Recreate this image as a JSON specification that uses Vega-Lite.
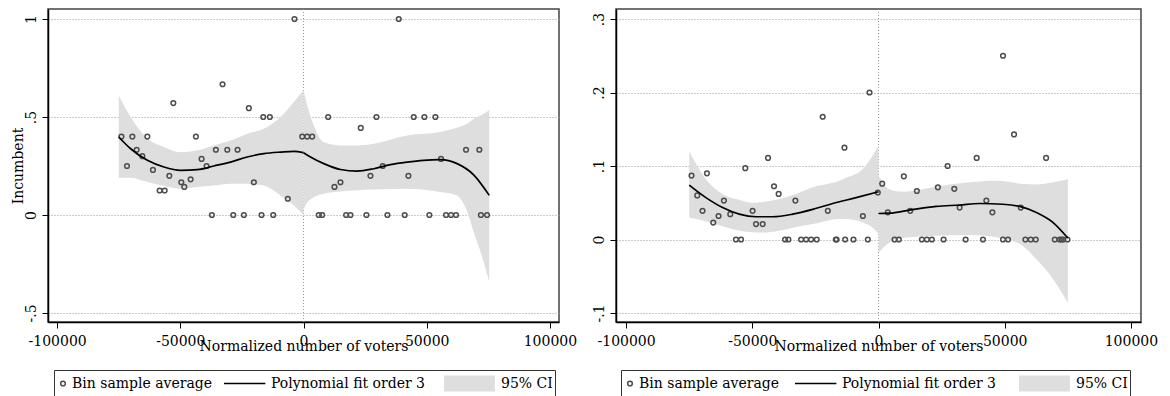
{
  "$schema": "https://vega.github.io/schema/vega-lite/v6.json",
  "padding": {"left": 10, "top": 7, "right": 0, "bottom": 0},
  "spacing": 13,
  "config": {
    "font": "DejaVu Serif",
    "view": {"stroke": "#444", "strokeWidth": 1.5},
    "axis": {"labelFont": "DejaVu Serif", "labelFontSize": 14, "labelColor": "#000", "titleFont": "DejaVu Serif", "titleFontSize": 14, "titleFontWeight": "normal", "titleColor": "#000", "domainColor": "#000", "domainWidth": 1.5, "tickColor": "#000", "tickSize": 6, "tickWidth": 1, "gridColor": "#999", "gridDash": [1, 2], "gridWidth": 1, "labelFlush": false},
    "axisX": {"grid": false},
    "legend": {"orient": "none", "legendX": 6, "legendY": 361, "direction": "horizontal", "strokeColor": "#333", "padding": 2, "columnPadding": 10, "labelOffset": 2, "clipHeight": 23, "symbolStrokeWidth": 1.5, "symbolFillColor": "transparent", "symbolStrokeColor": "transparent", "symbolOpacity": 1, "labelFont": "DejaVu Serif", "labelFontSize": 14, "labelColor": "#000", "fillColor": "#fff"}
  },
  "datasets": {
    "left_pts": [
      {"x": -73900, "y": 0.4, "series": "Bin sample average"},
      {"x": -71650, "y": 0.25, "series": "Bin sample average"},
      {"x": -69460, "y": 0.4, "series": "Bin sample average"},
      {"x": -67720, "y": 0.333, "series": "Bin sample average"},
      {"x": -65410, "y": 0.3, "series": "Bin sample average"},
      {"x": -63380, "y": 0.4, "series": "Bin sample average"},
      {"x": -61100, "y": 0.23, "series": "Bin sample average"},
      {"x": -58390, "y": 0.125, "series": "Bin sample average"},
      {"x": -56360, "y": 0.125, "series": "Bin sample average"},
      {"x": -54460, "y": 0.2, "series": "Bin sample average"},
      {"x": -52840, "y": 0.571, "series": "Bin sample average"},
      {"x": -49600, "y": 0.167, "series": "Bin sample average"},
      {"x": -48380, "y": 0.143, "series": "Bin sample average"},
      {"x": -45820, "y": 0.182, "series": "Bin sample average"},
      {"x": -43670, "y": 0.4, "series": "Bin sample average"},
      {"x": -41360, "y": 0.286, "series": "Bin sample average"},
      {"x": -39330, "y": 0.25, "series": "Bin sample average"},
      {"x": -37180, "y": 0, "series": "Bin sample average"},
      {"x": -35560, "y": 0.333, "series": "Bin sample average"},
      {"x": -32850, "y": 0.667, "series": "Bin sample average"},
      {"x": -30940, "y": 0.333, "series": "Bin sample average"},
      {"x": -28510, "y": 0, "series": "Bin sample average"},
      {"x": -26760, "y": 0.333, "series": "Bin sample average"},
      {"x": -24200, "y": 0, "series": "Bin sample average"},
      {"x": -22180, "y": 0.545, "series": "Bin sample average"},
      {"x": -20150, "y": 0.167, "series": "Bin sample average"},
      {"x": -17030, "y": 0, "series": "Bin sample average"},
      {"x": -16340, "y": 0.5, "series": "Bin sample average"},
      {"x": -13660, "y": 0.5, "series": "Bin sample average"},
      {"x": -12290, "y": 0, "series": "Bin sample average"},
      {"x": -6370, "y": 0.083, "series": "Bin sample average"},
      {"x": -3650, "y": 1.0, "series": "Bin sample average"},
      {"x": -530, "y": 0.4, "series": "Bin sample average"},
      {"x": 1500, "y": 0.4, "series": "Bin sample average"},
      {"x": 3530, "y": 0.4, "series": "Bin sample average"},
      {"x": 6200, "y": 0, "series": "Bin sample average"},
      {"x": 7580, "y": 0, "series": "Bin sample average"},
      {"x": 10010, "y": 0.5, "series": "Bin sample average"},
      {"x": 12570, "y": 0.143, "series": "Bin sample average"},
      {"x": 15000, "y": 0.167, "series": "Bin sample average"},
      {"x": 17300, "y": 0, "series": "Bin sample average"},
      {"x": 19060, "y": 0, "series": "Bin sample average"},
      {"x": 23240, "y": 0.444, "series": "Bin sample average"},
      {"x": 25550, "y": 0, "series": "Bin sample average"},
      {"x": 27170, "y": 0.2, "series": "Bin sample average"},
      {"x": 29600, "y": 0.5, "series": "Bin sample average"},
      {"x": 32160, "y": 0.25, "series": "Bin sample average"},
      {"x": 34060, "y": 0, "series": "Bin sample average"},
      {"x": 38650, "y": 1.0, "series": "Bin sample average"},
      {"x": 41080, "y": 0, "series": "Bin sample average"},
      {"x": 42580, "y": 0.2, "series": "Bin sample average"},
      {"x": 44740, "y": 0.5, "series": "Bin sample average"},
      {"x": 49070, "y": 0.5, "series": "Bin sample average"},
      {"x": 51090, "y": 0, "series": "Bin sample average"},
      {"x": 53530, "y": 0.5, "series": "Bin sample average"},
      {"x": 55830, "y": 0.286, "series": "Bin sample average"},
      {"x": 57850, "y": 0, "series": "Bin sample average"},
      {"x": 59880, "y": 0, "series": "Bin sample average"},
      {"x": 61910, "y": 0, "series": "Bin sample average"},
      {"x": 65970, "y": 0.333, "series": "Bin sample average"},
      {"x": 71370, "y": 0.333, "series": "Bin sample average"},
      {"x": 72000, "y": 0, "series": "Bin sample average"},
      {"x": 74500, "y": 0, "series": "Bin sample average"}
    ],
    "left_fit": [
      {"x": -75000, "y": 0.398, "side": "L", "series": "Polynomial fit order 3"},
      {"x": -70150, "y": 0.338, "side": "L", "series": "Polynomial fit order 3"},
      {"x": -63380, "y": 0.279, "side": "L", "series": "Polynomial fit order 3"},
      {"x": -56650, "y": 0.245, "side": "L", "series": "Polynomial fit order 3"},
      {"x": -49880, "y": 0.228, "side": "L", "series": "Polynomial fit order 3"},
      {"x": -43100, "y": 0.231, "side": "L", "series": "Polynomial fit order 3"},
      {"x": -36370, "y": 0.25, "side": "L", "series": "Polynomial fit order 3"},
      {"x": -29600, "y": 0.27, "side": "L", "series": "Polynomial fit order 3"},
      {"x": -22830, "y": 0.296, "side": "L", "series": "Polynomial fit order 3"},
      {"x": -16100, "y": 0.313, "side": "L", "series": "Polynomial fit order 3"},
      {"x": -9330, "y": 0.321, "side": "L", "series": "Polynomial fit order 3"},
      {"x": -3930, "y": 0.325, "side": "L", "series": "Polynomial fit order 3"},
      {"x": 0, "y": 0.318, "side": "L", "series": "Polynomial fit order 3"},
      {"x": 0, "y": 0.318, "side": "R", "series": "Polynomial fit order 3"},
      {"x": 2840, "y": 0.296, "side": "R", "series": "Polynomial fit order 3"},
      {"x": 8230, "y": 0.262, "side": "R", "series": "Polynomial fit order 3"},
      {"x": 15000, "y": 0.232, "side": "R", "series": "Polynomial fit order 3"},
      {"x": 21780, "y": 0.224, "side": "R", "series": "Polynomial fit order 3"},
      {"x": 28510, "y": 0.236, "side": "R", "series": "Polynomial fit order 3"},
      {"x": 35280, "y": 0.257, "side": "R", "series": "Polynomial fit order 3"},
      {"x": 42050, "y": 0.27, "side": "R", "series": "Polynomial fit order 3"},
      {"x": 48780, "y": 0.279, "side": "R", "series": "Polynomial fit order 3"},
      {"x": 55550, "y": 0.282, "side": "R", "series": "Polynomial fit order 3"},
      {"x": 62330, "y": 0.262, "side": "R", "series": "Polynomial fit order 3"},
      {"x": 69060, "y": 0.205, "side": "R", "series": "Polynomial fit order 3"},
      {"x": 75400, "y": 0.1, "side": "R", "series": "Polynomial fit order 3"}
    ],
    "left_ci": [
      {"x": -75000, "lo": 0.19, "hi": 0.61, "side": "L", "series": "95% CI"},
      {"x": -70150, "lo": 0.19, "hi": 0.5, "side": "L", "series": "95% CI"},
      {"x": -63380, "lo": 0.168, "hi": 0.39, "side": "L", "series": "95% CI"},
      {"x": -56650, "lo": 0.148, "hi": 0.347, "side": "L", "series": "95% CI"},
      {"x": -49880, "lo": 0.134, "hi": 0.32, "side": "L", "series": "95% CI"},
      {"x": -43100, "lo": 0.143, "hi": 0.33, "side": "L", "series": "95% CI"},
      {"x": -36370, "lo": 0.151, "hi": 0.355, "side": "L", "series": "95% CI"},
      {"x": -29600, "lo": 0.16, "hi": 0.38, "side": "L", "series": "95% CI"},
      {"x": -22830, "lo": 0.16, "hi": 0.415, "side": "L", "series": "95% CI"},
      {"x": -16100, "lo": 0.15, "hi": 0.44, "side": "L", "series": "95% CI"},
      {"x": -9330, "lo": 0.1, "hi": 0.5, "side": "L", "series": "95% CI"},
      {"x": -3930, "lo": 0.05, "hi": 0.577, "side": "L", "series": "95% CI"},
      {"x": 0, "lo": 0.0, "hi": 0.636, "side": "L", "series": "95% CI"},
      {"x": 0, "lo": 0.03, "hi": 0.636, "side": "R", "series": "95% CI"},
      {"x": 810, "lo": 0.05, "hi": 0.593, "side": "R", "series": "95% CI"},
      {"x": 4180, "lo": 0.09, "hi": 0.457, "side": "R", "series": "95% CI"},
      {"x": 8230, "lo": 0.109, "hi": 0.372, "side": "R", "series": "95% CI"},
      {"x": 15000, "lo": 0.12, "hi": 0.355, "side": "R", "series": "95% CI"},
      {"x": 21780, "lo": 0.126, "hi": 0.355, "side": "R", "series": "95% CI"},
      {"x": 28510, "lo": 0.13, "hi": 0.364, "side": "R", "series": "95% CI"},
      {"x": 42050, "lo": 0.134, "hi": 0.406, "side": "R", "series": "95% CI"},
      {"x": 55550, "lo": 0.117, "hi": 0.423, "side": "R", "series": "95% CI"},
      {"x": 62330, "lo": 0.1, "hi": 0.445, "side": "R", "series": "95% CI"},
      {"x": 63660, "lo": 0.083, "hi": 0.45, "side": "R", "series": "95% CI"},
      {"x": 66380, "lo": 0.02, "hi": 0.465, "side": "R", "series": "95% CI"},
      {"x": 69060, "lo": -0.087, "hi": 0.49, "side": "R", "series": "95% CI"},
      {"x": 72180, "lo": -0.2, "hi": 0.51, "side": "R", "series": "95% CI"},
      {"x": 75400, "lo": -0.34, "hi": 0.534, "side": "R", "series": "95% CI"}
    ],
    "right_pts": [
      {"x": -74080, "y": 0.087, "series": "Bin sample average"},
      {"x": -71800, "y": 0.06, "series": "Bin sample average"},
      {"x": -69720, "y": 0.039, "series": "Bin sample average"},
      {"x": -67980, "y": 0.09, "series": "Bin sample average"},
      {"x": -65470, "y": 0.023, "series": "Bin sample average"},
      {"x": -63370, "y": 0.032, "series": "Bin sample average"},
      {"x": -61250, "y": 0.053, "series": "Bin sample average"},
      {"x": -58730, "y": 0.0345, "series": "Bin sample average"},
      {"x": -56470, "y": 0, "series": "Bin sample average"},
      {"x": -54480, "y": 0, "series": "Bin sample average"},
      {"x": -52780, "y": 0.097, "series": "Bin sample average"},
      {"x": -49880, "y": 0.039, "series": "Bin sample average"},
      {"x": -48530, "y": 0.021, "series": "Bin sample average"},
      {"x": -45890, "y": 0.021, "series": "Bin sample average"},
      {"x": -43770, "y": 0.111, "series": "Bin sample average"},
      {"x": -41390, "y": 0.0725, "series": "Bin sample average"},
      {"x": -39560, "y": 0.062, "series": "Bin sample average"},
      {"x": -37030, "y": 0, "series": "Bin sample average"},
      {"x": -35710, "y": 0, "series": "Bin sample average"},
      {"x": -32930, "y": 0.053, "series": "Bin sample average"},
      {"x": -30670, "y": 0, "series": "Bin sample average"},
      {"x": -28690, "y": 0, "series": "Bin sample average"},
      {"x": -26700, "y": 0, "series": "Bin sample average"},
      {"x": -24480, "y": 0, "series": "Bin sample average"},
      {"x": -22100, "y": 0.167, "series": "Bin sample average"},
      {"x": -20080, "y": 0.039, "series": "Bin sample average"},
      {"x": -16900, "y": 0, "series": "Bin sample average"},
      {"x": -16600, "y": 0, "series": "Bin sample average"},
      {"x": -13490, "y": 0.125, "series": "Bin sample average"},
      {"x": -13210, "y": 0, "series": "Bin sample average"},
      {"x": -9920, "y": 0, "series": "Bin sample average"},
      {"x": -6190, "y": 0.032, "series": "Bin sample average"},
      {"x": -4230, "y": 0, "series": "Bin sample average"},
      {"x": -3570, "y": 0.2, "series": "Bin sample average"},
      {"x": -280, "y": 0.064, "series": "Bin sample average"},
      {"x": 1470, "y": 0.076, "series": "Bin sample average"},
      {"x": 3690, "y": 0.037, "series": "Bin sample average"},
      {"x": 6350, "y": 0, "series": "Bin sample average"},
      {"x": 8060, "y": 0, "series": "Bin sample average"},
      {"x": 10040, "y": 0.086, "series": "Bin sample average"},
      {"x": 12580, "y": 0.039, "series": "Bin sample average"},
      {"x": 15200, "y": 0.066, "series": "Bin sample average"},
      {"x": 17190, "y": 0, "series": "Bin sample average"},
      {"x": 19170, "y": 0, "series": "Bin sample average"},
      {"x": 21150, "y": 0, "series": "Bin sample average"},
      {"x": 23530, "y": 0.071, "series": "Bin sample average"},
      {"x": 25790, "y": 0, "series": "Bin sample average"},
      {"x": 27380, "y": 0.1, "series": "Bin sample average"},
      {"x": 30030, "y": 0.069, "series": "Bin sample average"},
      {"x": 32140, "y": 0.0435, "series": "Bin sample average"},
      {"x": 34520, "y": 0, "series": "Bin sample average"},
      {"x": 38890, "y": 0.111, "series": "Bin sample average"},
      {"x": 41400, "y": 0, "series": "Bin sample average"},
      {"x": 42730, "y": 0.053, "series": "Bin sample average"},
      {"x": 45120, "y": 0.037, "series": "Bin sample average"},
      {"x": 49330, "y": 0.25, "series": "Bin sample average"},
      {"x": 49330, "y": 0, "series": "Bin sample average"},
      {"x": 51310, "y": 0, "series": "Bin sample average"},
      {"x": 53700, "y": 0.143, "series": "Bin sample average"},
      {"x": 56350, "y": 0.0435, "series": "Bin sample average"},
      {"x": 58200, "y": 0, "series": "Bin sample average"},
      {"x": 60310, "y": 0, "series": "Bin sample average"},
      {"x": 62300, "y": 0, "series": "Bin sample average"},
      {"x": 66400, "y": 0.111, "series": "Bin sample average"},
      {"x": 69840, "y": 0, "series": "Bin sample average"},
      {"x": 71820, "y": 0, "series": "Bin sample average"},
      {"x": 72500, "y": 0, "series": "Bin sample average"},
      {"x": 73140, "y": 0, "series": "Bin sample average"},
      {"x": 74880, "y": 0, "series": "Bin sample average"}
    ],
    "right_fit": [
      {"x": -75000, "y": 0.074, "side": "L", "series": "Polynomial fit order 3"},
      {"x": -68370, "y": 0.057, "side": "L", "series": "Polynomial fit order 3"},
      {"x": -61780, "y": 0.0435, "side": "L", "series": "Polynomial fit order 3"},
      {"x": -55160, "y": 0.0345, "side": "L", "series": "Polynomial fit order 3"},
      {"x": -48530, "y": 0.031, "side": "L", "series": "Polynomial fit order 3"},
      {"x": -41940, "y": 0.031, "side": "L", "series": "Polynomial fit order 3"},
      {"x": -34000, "y": 0.0345, "side": "L", "series": "Polynomial fit order 3"},
      {"x": -26060, "y": 0.041, "side": "L", "series": "Polynomial fit order 3"},
      {"x": -18130, "y": 0.049, "side": "L", "series": "Polynomial fit order 3"},
      {"x": -8850, "y": 0.057, "side": "L", "series": "Polynomial fit order 3"},
      {"x": 0, "y": 0.065, "side": "L", "series": "Polynomial fit order 3"},
      {"x": 0, "y": 0.0354, "side": "R", "series": "Polynomial fit order 3"},
      {"x": 4360, "y": 0.0358, "side": "R", "series": "Polynomial fit order 3"},
      {"x": 12300, "y": 0.04, "side": "R", "series": "Polynomial fit order 3"},
      {"x": 22900, "y": 0.045, "side": "R", "series": "Polynomial fit order 3"},
      {"x": 32140, "y": 0.047, "side": "R", "series": "Polynomial fit order 3"},
      {"x": 40080, "y": 0.049, "side": "R", "series": "Polynomial fit order 3"},
      {"x": 49330, "y": 0.048, "side": "R", "series": "Polynomial fit order 3"},
      {"x": 55950, "y": 0.045, "side": "R", "series": "Polynomial fit order 3"},
      {"x": 62570, "y": 0.0367, "side": "R", "series": "Polynomial fit order 3"},
      {"x": 69180, "y": 0.023, "side": "R", "series": "Polynomial fit order 3"},
      {"x": 75000, "y": 0.002, "side": "R", "series": "Polynomial fit order 3"}
    ],
    "right_ci": [
      {"x": -75000, "lo": 0.03, "hi": 0.12, "side": "L", "series": "95% CI"},
      {"x": -68370, "lo": 0.025, "hi": 0.082, "side": "L", "series": "95% CI"},
      {"x": -61780, "lo": 0.018, "hi": 0.062, "side": "L", "series": "95% CI"},
      {"x": -55160, "lo": 0.012, "hi": 0.054, "side": "L", "series": "95% CI"},
      {"x": -49880, "lo": 0.01, "hi": 0.05, "side": "L", "series": "95% CI"},
      {"x": -45900, "lo": 0.0095, "hi": 0.051, "side": "L", "series": "95% CI"},
      {"x": -39280, "lo": 0.012, "hi": 0.055, "side": "L", "series": "95% CI"},
      {"x": -32660, "lo": 0.017, "hi": 0.062, "side": "L", "series": "95% CI"},
      {"x": -26060, "lo": 0.021, "hi": 0.071, "side": "L", "series": "95% CI"},
      {"x": -15480, "lo": 0.028, "hi": 0.08, "side": "L", "series": "95% CI"},
      {"x": -12820, "lo": 0.028, "hi": 0.084, "side": "L", "series": "95% CI"},
      {"x": -6230, "lo": 0.023, "hi": 0.096, "side": "L", "series": "95% CI"},
      {"x": -500, "lo": 0.0095, "hi": 0.125, "side": "L", "series": "95% CI"},
      {"x": 0, "lo": 0.006, "hi": 0.128, "side": "L", "series": "95% CI"},
      {"x": 0, "lo": -0.018, "hi": 0.087, "side": "R", "series": "95% CI"},
      {"x": 4360, "lo": -0.004, "hi": 0.068, "side": "R", "series": "95% CI"},
      {"x": 9650, "lo": 0.002, "hi": 0.065, "side": "R", "series": "95% CI"},
      {"x": 17000, "lo": 0.004, "hi": 0.068, "side": "R", "series": "95% CI"},
      {"x": 22900, "lo": 0.005, "hi": 0.072, "side": "R", "series": "95% CI"},
      {"x": 36110, "lo": 0.006, "hi": 0.078, "side": "R", "series": "95% CI"},
      {"x": 46700, "lo": 0.003, "hi": 0.08, "side": "R", "series": "95% CI"},
      {"x": 52900, "lo": -0.002, "hi": 0.078, "side": "R", "series": "95% CI"},
      {"x": 56000, "lo": -0.006, "hi": 0.076, "side": "R", "series": "95% CI"},
      {"x": 62600, "lo": -0.027, "hi": 0.075, "side": "R", "series": "95% CI"},
      {"x": 69200, "lo": -0.054, "hi": 0.078, "side": "R", "series": "95% CI"},
      {"x": 75000, "lo": -0.086, "hi": 0.082, "side": "R", "series": "95% CI"}
    ]
  },
  "hconcat": [
    {
      "width": 511,
      "height": 313,
      "encoding": {
        "x": {"field": "x", "type": "quantitative", "scale": {"domain": [-103700, 103700], "nice": false, "zero": false},
          "axis": {"values": [-100000, -50000, 0, 50000, 100000], "labelExpr": "datum.value < 0 ? '-' + format(-datum.value, 'd') : format(datum.value, 'd')", "title": "Normalized number of voters", "titlePadding": -9, "labelPadding": 6}}
      },
      "layer": [
        {"data": {"values": [{"x": 0}]}, "mark": {"type": "rule", "color": "#999", "strokeDash": [1, 2], "strokeWidth": 1}, "encoding": {}},
        {"data": {"name": "left_ci"}, "mark": {"type": "area", "opacity": 1, "interpolate": "monotone"},
          "encoding": {
            "y": {"field": "lo", "type": "quantitative", "scale": {"domain": [-0.546, 1.051], "nice": false, "zero": false},
              "axis": {"values": [-0.5, 0, 0.5, 1], "labelExpr": "datum.value == 1 ? '1' : datum.value == 0.5 ? '.5' : datum.value == 0 ? '0' : '-.5'", "labelAngle": 270, "labelAlign": "center", "labelBaseline": "bottom", "labelPadding": 4, "grid": true, "title": "Incumbent", "titlePadding": -1}},
            "y2": {"field": "hi"},
            "detail": {"field": "side"},
            "fill": {"field": "series", "type": "nominal", "scale": {"domain": ["Bin sample average", "Polynomial fit order 3", "95% CI"], "range": ["transparent", "transparent", "#dedede"]}, "legend": {"title": null}}
          }},
        {"data": {"name": "left_pts"}, "mark": {"type": "point", "filled": false, "strokeWidth": 1.5, "opacity": 1},
          "encoding": {
            "y": {"field": "y", "type": "quantitative", "scale": {"domain": [-0.546, 1.051], "nice": false, "zero": false},
              "axis": {"values": [-0.5, 0, 0.5, 1], "labelExpr": "datum.value == 1 ? '1' : datum.value == 0.5 ? '.5' : datum.value == 0 ? '0' : '-.5'", "labelAngle": 270, "labelAlign": "center", "labelBaseline": "bottom", "labelPadding": 4, "grid": true, "title": "Incumbent", "titlePadding": -1}},
            "fill": {"field": "series", "type": "nominal", "scale": {"domain": ["Bin sample average", "Polynomial fit order 3", "95% CI"], "range": ["transparent", "transparent", "#dedede"]}, "legend": {"title": null}},
            "stroke": {"field": "series", "type": "nominal", "scale": {"domain": ["Bin sample average", "Polynomial fit order 3", "95% CI"], "range": ["#4d4d4d", "#000000", "transparent"]}, "legend": {"title": null}},
            "shape": {"field": "series", "type": "nominal", "scale": {"domain": ["Bin sample average", "Polynomial fit order 3", "95% CI"], "range": ["circle", "M-1,0H0.88", "M-0.74,-0.26H0.9V0.26H-0.74Z"]}, "legend": {"title": null}},
            "size": {"field": "series", "type": "nominal", "scale": {"type": "point", "domain": ["Bin sample average", "Polynomial fit order 3", "95% CI"], "range": [22, 3850], "padding": 0}, "legend": {"title": null}}
          }},
        {"data": {"name": "left_fit"}, "mark": {"type": "line", "strokeWidth": 1.7, "interpolate": "monotone"},
          "encoding": {
            "y": {"field": "y", "type": "quantitative", "scale": {"domain": [-0.546, 1.051], "nice": false, "zero": false},
              "axis": {"values": [-0.5, 0, 0.5, 1], "labelExpr": "datum.value == 1 ? '1' : datum.value == 0.5 ? '.5' : datum.value == 0 ? '0' : '-.5'", "labelAngle": 270, "labelAlign": "center", "labelBaseline": "bottom", "labelPadding": 4, "grid": true, "title": "Incumbent", "titlePadding": -1}},
            "detail": {"field": "side"},
            "stroke": {"field": "series", "type": "nominal", "scale": {"domain": ["Bin sample average", "Polynomial fit order 3", "95% CI"], "range": ["#4d4d4d", "#000000", "transparent"]}, "legend": {"title": null}}
          }}
      ]
    },
    {
      "width": 525,
      "height": 313,
      "encoding": {
        "x": {"field": "x", "type": "quantitative", "scale": {"domain": [-104000, 104000], "nice": false, "zero": false},
          "axis": {"values": [-100000, -50000, 0, 50000, 100000], "labelExpr": "datum.value < 0 ? '-' + format(-datum.value, 'd') : format(datum.value, 'd')", "title": "Normalized number of voters", "titlePadding": -9, "labelPadding": 6}}
      },
      "layer": [
        {"data": {"values": [{"x": 0}]}, "mark": {"type": "rule", "color": "#999", "strokeDash": [1, 2], "strokeWidth": 1}, "encoding": {}},
        {"data": {"name": "right_ci"}, "mark": {"type": "area", "opacity": 1, "interpolate": "monotone"},
          "encoding": {
            "y": {"field": "lo", "type": "quantitative", "scale": {"domain": [-0.1122, 0.3136], "nice": false, "zero": false},
              "axis": {"values": [-0.1, 0, 0.1, 0.2, 0.3], "labelExpr": "datum.value == 0.3 ? '.3' : datum.value == 0.2 ? '.2' : datum.value == 0.1 ? '.1' : datum.value == 0 ? '0' : '-.1'", "labelAngle": 270, "labelAlign": "center", "labelBaseline": "bottom", "labelPadding": 4, "grid": true, "title": null}},
            "y2": {"field": "hi"},
            "detail": {"field": "side"},
            "fill": {"field": "series", "type": "nominal", "scale": {"domain": ["Bin sample average", "Polynomial fit order 3", "95% CI"], "range": ["transparent", "transparent", "#dedede"]}, "legend": {"title": null, "columnPadding": 14, "legendX": 5}}
          }},
        {"data": {"name": "right_pts"}, "mark": {"type": "point", "filled": false, "strokeWidth": 1.5, "opacity": 1},
          "encoding": {
            "y": {"field": "y", "type": "quantitative", "scale": {"domain": [-0.1122, 0.3136], "nice": false, "zero": false},
              "axis": {"values": [-0.1, 0, 0.1, 0.2, 0.3], "labelExpr": "datum.value == 0.3 ? '.3' : datum.value == 0.2 ? '.2' : datum.value == 0.1 ? '.1' : datum.value == 0 ? '0' : '-.1'", "labelAngle": 270, "labelAlign": "center", "labelBaseline": "bottom", "labelPadding": 4, "grid": true, "title": null}},
            "fill": {"field": "series", "type": "nominal", "scale": {"domain": ["Bin sample average", "Polynomial fit order 3", "95% CI"], "range": ["transparent", "transparent", "#dedede"]}, "legend": {"title": null, "columnPadding": 14, "legendX": 5}},
            "stroke": {"field": "series", "type": "nominal", "scale": {"domain": ["Bin sample average", "Polynomial fit order 3", "95% CI"], "range": ["#4d4d4d", "#000000", "transparent"]}, "legend": {"title": null, "columnPadding": 14, "legendX": 5}},
            "shape": {"field": "series", "type": "nominal", "scale": {"domain": ["Bin sample average", "Polynomial fit order 3", "95% CI"], "range": ["circle", "M-1,0H0.88", "M-0.74,-0.26H0.9V0.26H-0.74Z"]}, "legend": {"title": null, "columnPadding": 14, "legendX": 5}},
            "size": {"field": "series", "type": "nominal", "scale": {"type": "point", "domain": ["Bin sample average", "Polynomial fit order 3", "95% CI"], "range": [22, 3850], "padding": 0}, "legend": {"title": null, "columnPadding": 14, "legendX": 5}}
          }},
        {"data": {"name": "right_fit"}, "mark": {"type": "line", "strokeWidth": 1.7, "interpolate": "monotone"},
          "encoding": {
            "y": {"field": "y", "type": "quantitative", "scale": {"domain": [-0.1122, 0.3136], "nice": false, "zero": false},
              "axis": {"values": [-0.1, 0, 0.1, 0.2, 0.3], "labelExpr": "datum.value == 0.3 ? '.3' : datum.value == 0.2 ? '.2' : datum.value == 0.1 ? '.1' : datum.value == 0 ? '0' : '-.1'", "labelAngle": 270, "labelAlign": "center", "labelBaseline": "bottom", "labelPadding": 4, "grid": true, "title": null}},
            "detail": {"field": "side"},
            "stroke": {"field": "series", "type": "nominal", "scale": {"domain": ["Bin sample average", "Polynomial fit order 3", "95% CI"], "range": ["#4d4d4d", "#000000", "transparent"]}, "legend": {"title": null, "columnPadding": 14, "legendX": 5}}
          }}
      ]
    }
  ],
  "resolve": {
    "scale": {"fill": "independent", "stroke": "independent", "shape": "independent", "size": "independent"},
    "legend": {"fill": "independent", "stroke": "independent", "shape": "independent", "size": "independent"}
  }
}
